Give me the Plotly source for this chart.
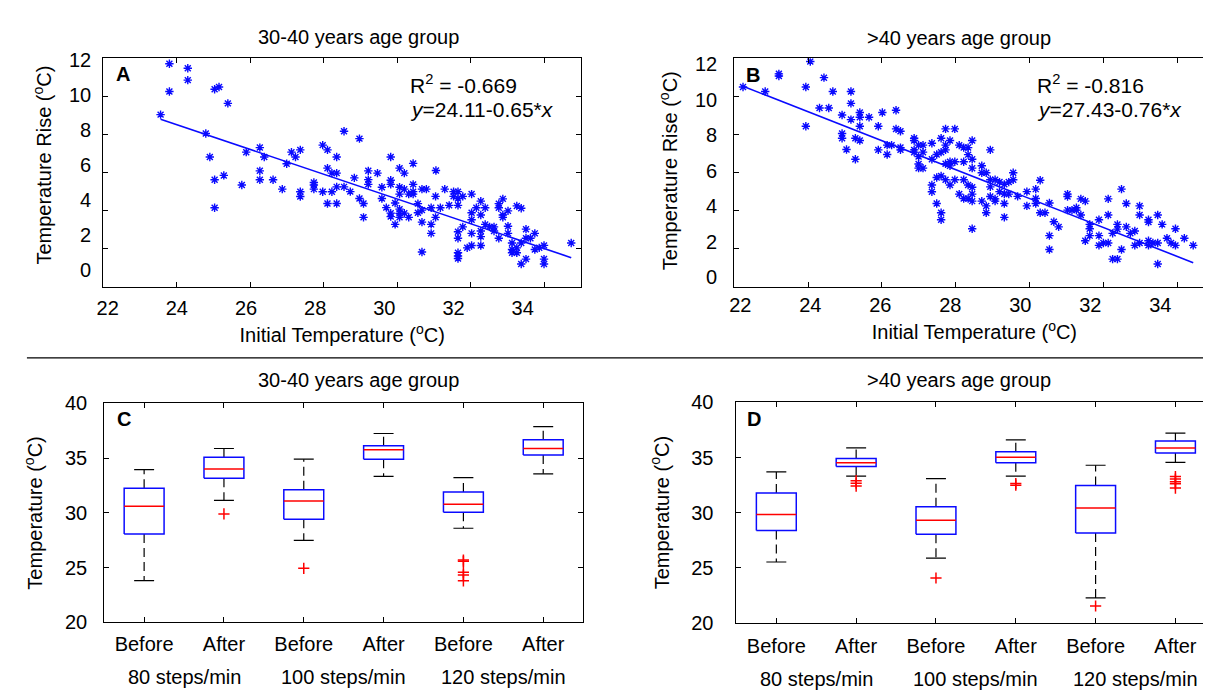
import plotly.graph_objects as go

W, H = 1211, 692
FONT = "Liberation Sans, Arial, sans-serif"

# ---------------- Data: panel A (30-40 years) ----------------
a_x = [23.80, 24.30, 24.30, 23.80, 25.03, 25.15, 25.39, 23.56, 24.79, 24.90, 25.03, 25.28, 25.03, 25.77,
       25.89, 26.26, 26.38, 26.26, 26.26, 26.62, 26.87, 26.99, 27.12, 27.23, 27.36, 27.36, 27.36, 27.73,
       27.73, 27.73, 27.97, 28.10, 27.97, 28.10, 28.22, 28.35, 28.35, 28.10, 28.35, 28.22, 28.35, 28.55,
       28.55,
       28.97, 28.72, 28.83, 28.97, 29.08, 29.08, 29.21, 29.21, 29.21, 29.46, 29.58, 29.58, 29.82, 29.82,
       29.82, 29.70, 29.82, 29.82, 29.94, 29.94, 30.06, 30.19, 30.06, 30.19, 30.06, 30.06, 30.06, 30.06,
       30.19, 30.31, 30.43, 30.43, 30.43, 30.43, 30.31, 30.56, 30.56, 30.67, 30.79, 30.67, 30.67, 30.92,
       30.92, 31.04, 31.04, 31.05, 31.17, 30.67, 30.92, 31.29, 31.41, 31.53, 31.65, 31.53, 31.65, 31.65,
       31.78, 31.78, 31.65, 31.65, 31.65, 31.65, 31.65, 31.90, 32.02, 32.02, 32.02, 32.02, 32.02, 32.15,
       32.27, 32.27, 32.27, 32.27, 32.27, 32.39, 32.39, 32.51, 32.63, 32.63, 32.76, 32.76, 32.76, 32.87,
       32.87, 32.87, 33.01, 33.01, 33.01, 33.12, 33.12, 33.12, 33.25, 33.37, 33.25, 33.25, 33.37, 33.50,
       33.50, 33.62, 33.74, 33.74, 33.37, 33.50, 33.86, 33.99, 33.99, 33.99, 34.73]
a_y = [11.71, 11.47, 10.85, 10.25, 10.37, 10.49, 9.63, 9.04, 8.05, 6.82, 5.62, 5.85, 4.15, 5.35,
       7.07, 7.31, 6.82, 6.09, 5.62, 5.62, 5.13, 6.46, 7.07, 6.82, 7.19, 4.99, 4.74, 5.48,
       5.35, 5.13, 7.44, 7.19, 4.99, 6.23, 5.97, 5.97, 6.82, 4.38, 4.38, 4.99, 5.25, 8.17,
       5.25,
       7.78, 5.00, 5.72, 4.64, 4.38, 3.65, 6.09, 5.63, 5.38, 5.97, 5.23, 4.64, 6.82, 5.60,
       5.38, 4.16, 3.87, 3.69, 3.28, 4.40, 6.23, 5.97, 5.23, 5.13, 4.87, 4.08, 3.86, 3.65,
       3.87, 3.65, 6.48, 5.38, 5.00, 4.87, 4.87, 4.37, 3.89, 5.13, 5.13, 4.03, 3.40, 3.28,
       4.15, 4.75, 3.65, 6.11, 4.15, 1.83, 2.81, 5.13, 4.28, 5.00, 5.00, 4.75, 4.64, 4.28,
       4.75, 3.15, 2.89, 2.55, 1.79, 1.62, 1.49, 2.05, 4.87, 3.89, 3.52, 2.81, 2.17, 4.15,
       4.50, 3.77, 2.93, 2.64, 2.17, 4.15, 3.28, 3.15, 3.15, 2.93, 4.37, 4.15, 2.55, 4.62,
       3.77, 3.65, 3.18, 2.81, 3.99, 2.30, 1.96, 1.79, 4.25, 4.13, 2.05, 1.79, 2.30, 3.03,
       2.55, 2.55, 2.81, 1.96, 1.20, 1.46, 2.05, 2.18, 1.46, 1.20, 2.30]

# ---------------- Data: panel B (>40 years) ----------------
b_x = [22.24, 22.84, 23.21, 23.21, 24.06, 23.94, 23.94, 24.43, 24.67, 24.31, 24.56, 24.92, 24.92, 24.92,
       25.04, 25.16, 25.16, 25.16, 25.28, 25.28, 25.40, 25.40, 25.40, 25.40, 25.65, 25.90, 25.90, 26.01,
       26.14, 26.14, 26.26, 26.38, 26.38, 26.50, 26.50, 26.50, 26.87, 26.87, 26.87, 26.87, 26.99, 26.99,
       26.99, 26.99, 27.11, 27.11, 27.11, 27.35, 27.35, 27.35, 27.35, 27.48, 27.48, 27.48, 27.60, 27.60,
       27.60, 27.60, 27.60, 27.72, 27.72, 27.72, 27.72, 27.72, 27.84, 27.84, 27.84, 27.84, 27.97, 27.97,
       27.97, 28.09, 28.09, 28.21, 28.21, 28.21, 28.21, 28.33, 28.33, 28.33, 28.33, 28.44, 28.44, 28.44,
       28.44, 28.44, 28.44, 28.44,
       28.70, 28.70, 28.70, 28.82, 28.82, 28.82, 28.93, 28.93, 28.93, 28.93, 29.06, 29.06, 29.06, 29.18,
       29.18, 29.31, 29.31, 29.31, 29.31, 29.43, 29.43, 29.55, 29.55, 29.67, 29.92, 29.92, 30.16, 30.16,
       30.16, 30.28, 30.28, 30.41, 30.53, 30.53, 30.53, 30.65, 30.78, 31.02, 31.02, 31.02, 31.14, 31.26,
       31.26, 31.38, 31.38, 31.50, 31.50, 31.62, 31.62, 31.62, 31.87, 31.87, 31.87, 31.99, 32.12, 32.12,
       32.12, 32.24, 32.37, 32.37, 32.24, 32.37, 32.48, 32.48, 32.61, 32.61, 32.72, 32.84, 32.84, 32.97,
       32.97, 32.97, 33.21, 33.21, 33.21, 33.21, 33.33, 33.46, 33.46, 33.46, 33.58, 33.71, 33.82, 33.94,
       33.94, 34.18, 34.42]
b_y = [10.49, 10.25, 11.18, 11.07, 11.83, 10.49, 8.43, 10.98, 10.25, 9.39, 9.39, 9.02, 8.05, 7.80,
       7.21, 10.25, 9.63, 8.78, 7.80, 6.70, 9.15, 8.90, 8.43, 7.68, 8.90, 8.43, 7.19, 9.15,
       7.44, 6.95, 7.44, 9.27, 8.29, 8.17, 7.31, 7.19, 7.80, 7.68, 7.19, 7.07, 7.44, 6.84,
       6.45, 6.23, 7.44, 7.07, 6.23, 7.54, 6.70, 5.35, 4.99, 6.95, 5.74, 4.38, 7.80, 7.07,
       5.82, 3.89, 3.52, 8.29, 7.44, 7.19, 6.46, 5.62, 7.68, 6.57, 6.35, 5.35, 8.29, 6.57,
       5.62, 7.44, 4.87, 7.31, 6.57, 5.62, 4.64, 7.31, 6.94, 5.35, 4.64, 7.68, 6.70, 6.23,
       5.23, 4.87, 4.50, 3.05,
       6.36, 5.99, 4.50, 5.99, 4.25, 3.89, 7.19, 5.62, 5.25, 4.74, 5.62, 4.62, 4.50, 5.50,
       5.00, 5.38, 4.87, 4.38, 3.65, 5.50, 4.87, 5.99, 5.62, 4.75, 5.00, 4.25, 5.13, 4.64,
       4.38, 5.60, 3.89, 3.89, 4.40, 2.69, 1.96, 3.42, 3.15, 4.87, 4.74, 4.03, 4.03, 4.03,
       4.15, 4.62, 3.77, 4.50, 2.42, 3.28, 3.05, 2.69, 3.52, 2.69, 2.18, 2.30, 2.30, 4.62,
       3.77, 2.81, 3.28, 3.03, 1.46, 1.46, 5.13, 1.96, 4.38, 3.15, 2.81, 2.93, 2.18, 4.25,
       3.77, 2.30, 3.52, 3.40, 2.42, 2.18, 2.30, 3.77, 2.30, 1.20, 3.28, 2.55, 2.30, 3.05,
       2.18, 2.55, 2.18]

# regression coefficients (intercept, slope) and R labels
a_fit = (24.11, -0.65)
b_fit = (27.43, -0.76)
a_r2 = "-0.669"
b_r2 = "-0.816"

# scatter axis ticks
scat_xticks = [22, 24, 26, 28, 30, 32, 34]
scat_yticks = [0, 2, 4, 6, 8, 10, 12]
box_yticks = [20, 25, 30, 35, 40]

# ---------------- Data: box plots ----------------
cat_labels = ["Before", "After", "Before", "After", "Before", "After"]
group_labels = ["80 steps/min", "100 steps/min", "120 steps/min"]

c_lo  = [23.83, 31.14, 27.49, 33.33, 28.60, 33.57]
c_q1  = [28.07, 33.16, 29.42, 34.91, 30.06, 35.29]
c_med = [30.61, 34.01, 31.08, 35.76, 30.79, 35.88]
c_q3  = [32.25, 35.09, 32.11, 36.14, 31.90, 36.67]
c_hi  = [33.95, 35.88, 34.91, 37.25, 33.22, 37.87]
c_out = [[], [29.91], [24.94], [], [25.70, 25.58, 24.59, 24.33, 23.80], []]

d_lo  = [25.52, 33.31, 25.87, 33.31, 22.26, 34.56]
d_q1  = [28.38, 34.18, 28.03, 34.53, 28.15, 35.41]
d_med = [29.84, 34.53, 29.31, 35.03, 30.42, 35.87]
d_q3  = [31.79, 34.91, 30.54, 35.52, 32.46, 36.49]
d_hi  = [33.69, 35.87, 33.08, 36.60, 34.30, 37.22]
d_out = [[], [32.90, 32.67, 32.41], [24.07], [32.64, 32.49], [21.53],
         [33.28, 33.05, 32.81, 32.61, 32.23]]

# ---------------- Figure ----------------
fig = go.Figure()
BLUE = "rgb(10,10,255)"


def add_scatter(xs, ys, fit, xa, ya):
    fig.add_trace(go.Scatter(
        x=xs, y=ys, mode="markers", xaxis=xa, yaxis=ya, showlegend=False,
        marker=dict(symbol="asterisk-open", size=7, color=BLUE,
                    line=dict(color=BLUE, width=1.4))))
    x0, x1 = min(xs), max(xs)
    fig.add_trace(go.Scatter(
        x=[x0, x1], y=[fit[0] + fit[1] * x0, fit[0] + fit[1] * x1],
        mode="lines", xaxis=xa, yaxis=ya, showlegend=False,
        line=dict(color=BLUE, width=1.6)))


add_scatter(a_x, a_y, a_fit, "x", "y")
add_scatter(b_x, b_y, b_fit, "x2", "y2")


def add_boxes(lo, q1, med, q3, hi, outs, xa, ya):
    hw, cw = 0.25, 0.125
    bx, by, mx, my, wx, wy, cx, cy, ox, oy = [], [], [], [], [], [], [], [], [], []
    for i in range(len(med)):
        p = i + 1
        bx += [p - hw, p + hw, p + hw, p - hw, p - hw, None]
        by += [q1[i], q1[i], q3[i], q3[i], q1[i], None]
        mx += [p - hw, p + hw, None]
        my += [med[i], med[i], None]
        wx += [p, p, None, p, p, None]
        wy += [q3[i], hi[i], None, q1[i], lo[i], None]
        cx += [p - cw, p + cw, None, p - cw, p + cw, None]
        cy += [hi[i], hi[i], None, lo[i], lo[i], None]
        for o in outs[i]:
            ox.append(p)
            oy.append(o)
    common = dict(xaxis=xa, yaxis=ya, showlegend=False, mode="lines")
    fig.add_trace(go.Scatter(x=wx, y=wy, line=dict(color="black", width=1.2, dash="9px,5px"), **common))
    fig.add_trace(go.Scatter(x=cx, y=cy, line=dict(color="black", width=1.2), **common))
    fig.add_trace(go.Scatter(x=bx, y=by, fill="toself", fillcolor="white",
                             line=dict(color=BLUE, width=1.5), **common))
    fig.add_trace(go.Scatter(x=mx, y=my, line=dict(color="red", width=1.5), **common))
    fig.add_trace(go.Scatter(x=ox, y=oy, mode="markers", xaxis=xa, yaxis=ya, showlegend=False,
                             marker=dict(symbol="cross-thin-open", size=8, color="red",
                                         line=dict(color="red", width=1.5))))


add_boxes(c_lo, c_q1, c_med, c_q3, c_hi, c_out, "x3", "y3")
add_boxes(d_lo, d_q1, d_med, d_q3, d_hi, d_out, "x4", "y4")


def px_x(v):
    return v / W


def px_y(v):
    return 1 - v / H


tick_font = dict(family=FONT, size=20, color="black")
title_font = dict(family=FONT, size=20, color="black")
frame = dict(showline=True, mirror="allticks", linecolor="black", linewidth=1,
             ticks="inside", ticklen=5, tickwidth=1, tickcolor="black",
             showgrid=False, zeroline=False, tickfont=tick_font)
# label-only axes (the reference's numbers sit slightly off its tick marks)
labels_only = dict(showline=False, ticks="", showgrid=False, zeroline=False,
                   tickfont=tick_font, anchor="free", fixedrange=True)

temp_c = "(<sup>o</sup>C)"

fig.update_layout(
    width=W, height=H, margin=dict(l=0, r=0, t=0, b=0),
    paper_bgcolor="white", plot_bgcolor="rgba(0,0,0,0)",
    font=dict(family=FONT, color="black"),
    # panel A frame
    xaxis=dict(domain=[px_x(85), px_x(567.3)], range=[22, 35], tickvals=scat_xticks,
               anchor="y", showticklabels=False,
               title=dict(text="Initial Temperature " + temp_c, font=title_font, standoff=41),
               **frame),
    yaxis=dict(domain=[px_y(276.7), px_y(40.5)], range=[0, 12], tickvals=scat_yticks,
               anchor="x", showticklabels=False, **frame),
    # panel B frame
    xaxis2=dict(domain=[px_x(721.7), px_x(1206.6)], range=[22, 35], tickvals=scat_xticks,
                anchor="y2", showticklabels=False,
                title=dict(text="Initial Temperature " + temp_c, font=title_font, standoff=38),
                **frame),
    yaxis2=dict(domain=[px_y(276.7), px_y(40.5)], range=[0, 12], tickvals=scat_yticks,
                anchor="x2", showticklabels=False, **frame),
    # panel C
    xaxis3=dict(domain=[px_x(86), px_x(569.3)], range=[0.5, 6.5], tickvals=[1, 2, 3, 4, 5, 6],
                ticktext=cat_labels, anchor="y3", ticklabelstandoff=4, **frame),
    yaxis3=dict(domain=[px_y(623.3), px_y(397)], range=[20, 40], tickvals=box_yticks,
                anchor="x3", ticklabelstandoff=12,
                title=dict(text="Temperature " + temp_c, font=title_font, standoff=16),
                **frame),
    # panel D
    xaxis4=dict(domain=[px_x(724), px_x(1207.3)], range=[0.5, 6.5], tickvals=[1, 2, 3, 4, 5, 6],
                ticktext=cat_labels, anchor="y4", ticklabelstandoff=5, **frame),
    yaxis4=dict(domain=[px_y(623.7), px_y(396)], range=[20, 40], tickvals=box_yticks,
                anchor="x4", ticklabelstandoff=18,
                title=dict(text="Temperature " + temp_c, font=title_font, standoff=16),
                **frame),
    # tick labels of panel A
    xaxis5=dict(domain=[px_x(89.5), px_x(89.5 + 13 * 34.9)], range=[22, 35], tickvals=scat_xticks,
                position=px_y(277), ticklabelstandoff=7, **labels_only),
    yaxis5=dict(domain=[px_y(259.5), px_y(42.3)], range=[0, 12], tickvals=scat_yticks,
                position=px_x(85), ticklabelstandoff=12,
                title=dict(text="Temperature Rise " + temp_c, font=title_font, standoff=10),
                **labels_only),
    # tick labels of panel B
    xaxis6=dict(domain=[px_x(727.9), px_x(727.9 + 13 * 35.32)], range=[22, 35], tickvals=scat_xticks,
                position=px_y(277), ticklabelstandoff=4, **labels_only),
    yaxis6=dict(domain=[px_y(266.7), px_y(46.7)], range=[0, 12], tickvals=scat_yticks,
                position=px_x(721.7), ticklabelstandoff=17,
                title=dict(text="Temperature Rise " + temp_c, font=title_font, standoff=10),
                **labels_only),
)

# invisible carriers so the label axes are drawn
fig.add_trace(go.Scatter(x=[22, 35], y=[0, 12], xaxis="x5", yaxis="y5", mode="markers",
                         marker=dict(opacity=0), hoverinfo="skip", showlegend=False))
fig.add_trace(go.Scatter(x=[22, 35], y=[0, 12], xaxis="x6", yaxis="y6", mode="markers",
                         marker=dict(opacity=0), hoverinfo="skip", showlegend=False))

ann = []
# panel titles
for txt, x, y in [("30-40 years age group", 343, 19), (">40 years age group", 949, 20),
                  ("30-40 years age group", 343, 373), (">40 years age group", 949, 373)]:
    ann.append(dict(text=txt, x=px_x(x), y=px_y(y), xref="paper", yref="paper",
                    xanchor="center", yanchor="middle", showarrow=False,
                    font=dict(family=FONT, size=20, color="black")))
# panel letters
for txt, x, y in [("A", 105, 57), ("B", 741, 58), ("C", 106, 413), ("D", 742, 413)]:
    ann.append(dict(text="<b>" + txt + "</b>", x=px_x(x), y=px_y(y), xref="paper", yref="paper",
                    xanchor="center", yanchor="middle", showarrow=False,
                    font=dict(family=FONT, size=20, color="black")))
# regression annotations
for r2, fit, x in [(a_r2, a_fit, 393), (b_r2, b_fit, 1025)]:
    ann.append(dict(text="R<sup>2</sup> = " + r2, x=px_x(x), y=px_y(67), xref="paper", yref="paper",
                    xanchor="left", yanchor="middle", showarrow=False,
                    font=dict(family=FONT, size=21, color="black")))
    ann.append(dict(text="<i>y</i>=%.2f-%.2f*<i>x</i>" % (fit[0], -fit[1]), x=px_x(x), y=px_y(93),
                    xref="paper", yref="paper", xanchor="left", yanchor="middle", showarrow=False,
                    font=dict(family=FONT, size=21, color="black")))
# group labels under box plots
for xa, ypx in [("x3", 680), ("x4", 682)]:
    for gi, g in enumerate(group_labels):
        ann.append(dict(text=g, x=1.5 + 2 * gi, y=px_y(ypx), xref=xa, yref="paper",
                        xanchor="center", yanchor="middle", showarrow=False,
                        font=dict(family=FONT, size=20, color="black")))
fig.update_layout(annotations=ann)

# separator line between the two rows
fig.add_shape(type="line", xref="paper", yref="paper", x0=px_x(8), x1=1, y0=px_y(350), y1=px_y(350),
              line=dict(color="black", width=1.2))

fig.write_html("out.html")
